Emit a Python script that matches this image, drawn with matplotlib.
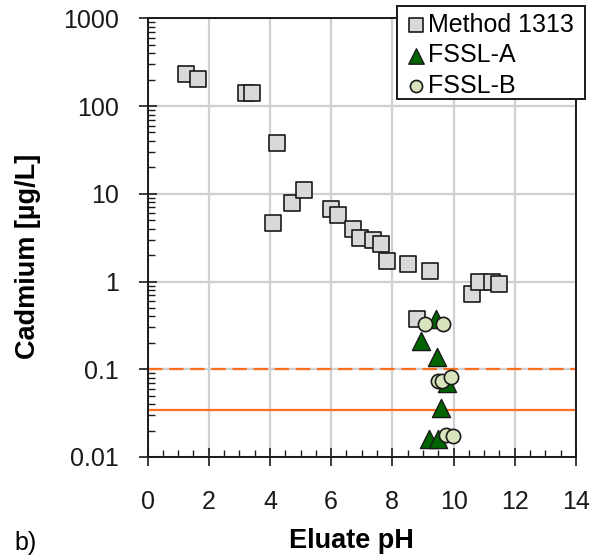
import matplotlib
matplotlib.use("Agg")
import matplotlib.pyplot as plt
from matplotlib.patches import Rectangle
from matplotlib.ticker import LogLocator, FixedLocator, NullFormatter, MultipleLocator

plt.rcParams['font.family'] = ['Liberation Sans', 'DejaVu Sans']

# Data
m1313_ph = [1.25, 1.66, 3.22, 3.42, 4.22, 4.11, 4.71, 5.12, 6.00, 6.22, 6.73, 6.94,
            7.38, 7.62, 7.84, 8.50, 9.23, 8.82, 10.60, 10.84, 11.25, 11.49]
m1313_cd = [232, 205, 142, 140, 38, 4.6, 7.9, 10.9, 6.7, 5.75, 3.95, 3.17,
            2.99, 2.67, 1.72, 1.59, 1.33, 0.37, 0.72, 1.0, 1.0, 0.94]

fssla_ph = [8.92, 9.43, 9.47, 9.80, 9.60, 9.21, 9.50]
fssla_cd = [0.21, 0.37, 0.138, 0.070, 0.036, 0.016, 0.016]

fsslb_ph = [9.07, 9.65, 9.50, 9.62, 9.92, 9.76, 9.97]
fsslb_cd = [0.33, 0.33, 0.074, 0.074, 0.081, 0.018, 0.0175]

limit_dashed = 0.1
limit_solid = 0.034

x_ticks = [0, 2, 4, 6, 8, 10, 12, 14]
y_ticks = [0.01, 0.1, 1, 10, 100, 1000]
y_ticklabels = ['0.01', '0.1', '1', '10', '100', '1000']

W, H = 596, 560
fig = plt.figure(figsize=(W / 100, H / 100), dpi=100)
ax = fig.add_axes([147.5 / W, 1 - 457 / H, (576 - 147.5) / W, (457 - 18.3) / H])

ax.set_yscale('log')
ax.set_xlim(0, 14)
ax.set_ylim(0.01, 1000)

ax.grid(True, which='major', color='#d0d0d0', linewidth=1.6, zorder=0)
ax.set_axisbelow(True)

orange = '#FF6E1F'
ax.axhline(limit_dashed, color=orange, linewidth=1.6, linestyle=(0, (6.5, 3)), zorder=1)
ax.axhline(limit_solid, color=orange, linewidth=1.6, zorder=1)

ax.scatter(m1313_ph, m1313_cd, marker='s', s=140, facecolor='#d9d9d9',
           edgecolor='#1a1a1a', linewidth=1.2, zorder=3, label='Method 1313')
ax.scatter(fssla_ph, fssla_cd, marker='^', s=170, facecolor='#006400',
           edgecolor='#1a1a1a', linewidth=1.0, zorder=4, label='FSSL-A')
ax.scatter(fsslb_ph, fsslb_cd, marker='o', s=105, facecolor='#d8e4bc',
           edgecolor='#1a1a1a', linewidth=1.2, zorder=5, label='FSSL-B')

ax.set_xticks(x_ticks)
ax.set_xticklabels([str(t) for t in x_ticks])
ax.xaxis.set_minor_locator(MultipleLocator(0.5))
ax.yaxis.set_major_locator(FixedLocator(y_ticks))
ax.set_yticklabels(y_ticklabels)
ax.yaxis.set_minor_locator(LogLocator(base=10, subs=range(2, 10), numticks=20))
ax.yaxis.set_minor_formatter(NullFormatter())

ax.tick_params(which='major', direction='inout', length=13, width=1.2,
               labelsize=18, colors='#1a1a1a')
ax.tick_params(which='minor', direction='in', length=5, width=1.0, colors='#1a1a1a')
ax.tick_params(axis='y', which='major', pad=14)
ax.tick_params(axis='x', which='major', pad=17)

for sp in ax.spines.values():
    sp.set_linewidth(1.4)
    sp.set_color('#1a1a1a')

fig.text(351 / W, 1 - 541 / H, 'Eluate pH', fontsize=19.5, fontweight='bold',
         ha='center', va='center')
fig.text(28 / W, 1 - 256 / H, 'Cadmium [µg/L]', fontsize=19.5, fontweight='bold',
         ha='center', va='center', rotation=90)
fig.text(14 / W, 1 - 543 / H, 'b)', fontsize=18, va='center', ha='left')

# legend box
frame = Rectangle((397 / W, 1 - 99 / H), (585 - 397) / W, (99 - 6) / H,
                  transform=fig.transFigure, facecolor='white', edgecolor='#1a1a1a',
                  linewidth=1.4, clip_on=False, zorder=9)
ax.add_patch(frame)

leg = ax.legend(loc='upper left', bbox_to_anchor=(410 / W, 1 - 12.5 / H),
                bbox_transform=fig.transFigure, fontsize=18, frameon=False,
                handlelength=0.5, handletextpad=0.22, borderpad=0,
                labelspacing=0.27, markerscale=0.85, borderaxespad=0)
leg.set_zorder(10)

fig.savefig('out.png', dpi=100)
